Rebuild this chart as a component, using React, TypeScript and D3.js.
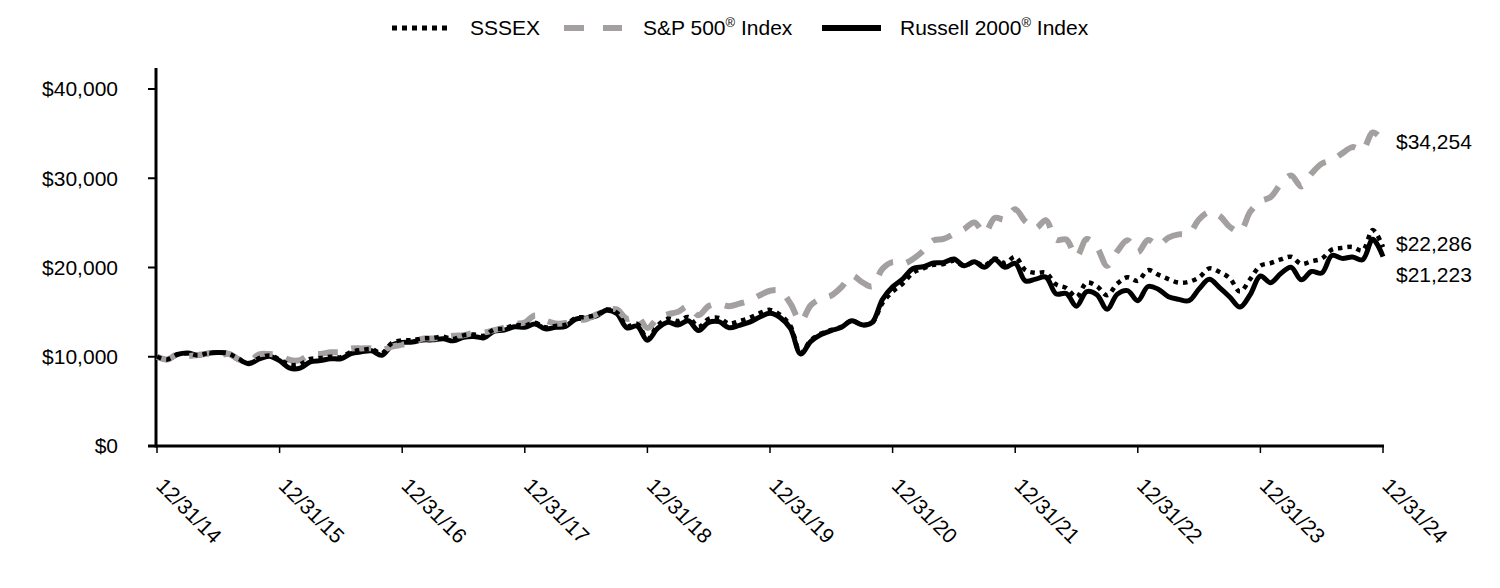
import React from "react";
import * as d3 from "d3";

// Month-end values, 12/31/14 .. 12/31/24 (growth of $10,000)
const sssex: number[] = [
  10000,
  9700, 10250, 10400, 10150, 10400, 10450, 10350, 9750, 9300, 9850, 10150, 9700,
  9100, 9150, 9750, 9850, 10000, 9950, 10550, 10750, 10850, 10400, 11550, 11850,
  11850, 12050, 12100, 12250, 12000, 12400, 12500, 12350, 13050, 13150, 13550, 13500,
  13800, 13300, 13450, 13600, 14350, 14450, 14700, 15300, 14950, 13450, 13700, 12000,
  13500, 14250, 14000, 14450, 13350, 14250, 14350, 13700, 14000, 14350, 14900, 15250,
  14700, 13450, 10450, 11850, 12600, 13000, 13350, 14050, 13550, 13800, 16000, 17300,
  18200, 19400, 19900, 20300, 20400, 20750, 20200, 20600, 20250, 21000, 20500, 21200,
  19700, 19400, 19400, 18100, 17700, 16700, 18300, 17900, 16900, 18200, 18900, 18500,
  19700, 19200, 18700, 18300, 18400, 18900, 19900, 19500, 18800, 17300, 18700, 20200,
  20500, 20900, 21200, 20400, 20700, 21000, 22000, 22200, 22300, 21900, 24200, 22286,
];

const sp500: number[] = [
  10000,
  9700, 10258, 10096, 10193, 10324, 10124, 10337, 9713, 9473, 10273, 10304, 10141,
  9638, 9625, 10278, 10318, 10504, 10531, 10920, 10935, 10937, 10738, 11135, 11356,
  11572, 12031, 12046, 12170, 12341, 12418, 12674, 12713, 12975, 13277, 13685, 13837,
  14630, 14090, 13732, 13785, 14117, 14204, 14733, 15213, 15300, 14254, 14545, 13231,
  14291, 14750, 15036, 15645, 14652, 15685, 15911, 15660, 15953, 16299, 16891, 17401,
  17394, 15962, 13991, 15785, 16536, 16865, 17816, 19097, 18371, 17882, 19840, 20602,
  20394, 20957, 21875, 23043, 23204, 23745, 24310, 25049, 23884, 25558, 25382, 26519,
  25148, 24396, 25301, 23095, 23137, 21228, 23185, 22239, 20191, 21826, 23046, 21719,
  23083, 22520, 23346, 23710, 23812, 25386, 26201, 25784, 24554, 24038, 26233, 27424,
  27885, 29374, 30320, 29083, 30525, 31621, 32007, 32785, 33486, 33181, 35129, 34254,
];

const russell: number[] = [
  10000,
  9678, 10253, 10431, 10165, 10397, 10475, 10354, 9704, 9227, 9747, 10065, 9560,
  8720, 8720, 9416, 9564, 9781, 9775, 10359, 10549, 10666, 10159, 11292, 11608,
  11653, 11878, 11893, 12024, 11780, 12188, 12278, 12122, 12878, 12989, 13363, 13310,
  13657, 13129, 13298, 13412, 14226, 14329, 14578, 15206, 14840, 13228, 13439, 11842,
  13174, 13859, 13569, 14030, 12939, 13854, 13934, 13246, 13521, 13877, 14449, 14865,
  14388, 13177, 10313, 11730, 12494, 12935, 13293, 14042, 13573, 13857, 16411, 17831,
  18728, 19895, 20088, 20510, 20553, 20952, 20196, 20648, 20039, 20891, 20020, 20466,
  18495, 18693, 18925, 17050, 17076, 15672, 17308, 16953, 15329, 17017, 17415, 16285,
  17873, 17571, 16731, 16430, 16279, 17603, 18680, 17746, 16701, 15562, 16970, 19044,
  18303, 19337, 20029, 18619, 19554, 19372, 21340, 21022, 21169, 20864, 23153, 21223,
];

const yearLabels: string[] = [
  "12/31/14", "12/31/15", "12/31/16", "12/31/17", "12/31/18", "12/31/19",
  "12/31/20", "12/31/21", "12/31/22", "12/31/23", "12/31/24",
];
const yTicks: number[] = [0, 10000, 20000, 30000, 40000];
const endLabels: string[] = ["$22,286", "$34,254", "$21,223"];

const GRAY = "#a5a0a0";
const FONT = "'Liberation Sans', Arial, Helvetica, sans-serif";
const FS = 21;

export default function App() {
  const W = 1500;
  const H = 588;
  const x = d3.scaleLinear().domain([0, 120]).range([157, 1383]);
  const y = d3.scaleLinear().domain([0, 40000]).range([446, 89]);
  const fmt = d3.format("$,.0f");

  const lineGen = d3
    .line<number>()
    .x((_, i) => x(i))
    .y((d) => y(d))
    .curve(d3.curveCatmullRom.alpha(0.5));

  const series = [
    { name: "SSSEX", data: sssex },
    { name: "S&P 500", data: sp500 },
    { name: "Russell 2000", data: russell },
  ];
  const labelDy = [-3, 1, 18];

  return (
    <svg
      width={W}
      height={H}
      style={{ position: "absolute", left: 0, top: 0, background: "#fff" }}
      fontFamily={FONT}
    >
      {/* Legend */}
      <g fontSize={FS} fill="#000">
        <line x1={392} x2={447} y1={28} y2={28} stroke="#000" strokeWidth={5} strokeDasharray="5 5" />
        <text x={470} y={28} dy="0.35em">SSSEX</text>
        <line x1={564} x2={622} y1={28} y2={28} stroke={GRAY} strokeWidth={6} strokeDasharray="20 19" />
        <text x={643} y={28} dy="0.35em">
          S&amp;P 500<tspan fontSize={13} dy={-8}>®</tspan><tspan dy={8}> Index</tspan>
        </text>
        <line x1={822} x2={881} y1={28} y2={28} stroke="#000" strokeWidth={6} />
        <text x={900} y={28} dy="0.35em">
          Russell 2000<tspan fontSize={13} dy={-8}>®</tspan><tspan dy={8}> Index</tspan>
        </text>
      </g>

      {/* Y axis */}
      <line x1={156} x2={156} y1={68} y2={447.5} stroke="#000" strokeWidth={3} />
      {yTicks.map((t) => (
        <g key={t}>
          <line x1={148} x2={156} y1={y(t)} y2={y(t)} stroke="#000" strokeWidth={2} />
          <text x={118} y={y(t)} dy="0.35em" textAnchor="end" fontSize={FS}>
            {fmt(t)}
          </text>
        </g>
      ))}

      {/* X axis */}
      <line x1={148} x2={1384} y1={446} y2={446} stroke="#000" strokeWidth={3} />
      {yearLabels.map((lab, k) => {
        const xi = x(k * 12);
        return (
          <g key={lab}>
            <line x1={xi} x2={xi} y1={446} y2={453} stroke="#000" strokeWidth={1.5} />
            <text
              transform={`translate(${xi - 2},487) rotate(45)`}
              fontSize={FS}
              textAnchor="start"
            >
              {lab}
            </text>
          </g>
        );
      })}

      {/* Series lines: Russell at bottom, S&P, SSSEX on top */}
      <path d={lineGen(russell) || ""} fill="none" stroke="#000" strokeWidth={5} strokeLinejoin="round" />
      <path d={lineGen(sp500) || ""} fill="none" stroke={GRAY} strokeWidth={6} strokeDasharray="20 14" />
      <path d={lineGen(sssex) || ""} fill="none" stroke="#000" strokeWidth={4.5} strokeDasharray="4.5 5" />

      {/* End labels */}
      {series.map((s, k) => (
        <text
          key={s.name}
          x={1396}
          y={y(s.data[s.data.length - 1]) + labelDy[k]}
          dy="0.35em"
          fontSize={FS}
        >
          {endLabels[k]}
        </text>
      ))}
    </svg>
  );
}
